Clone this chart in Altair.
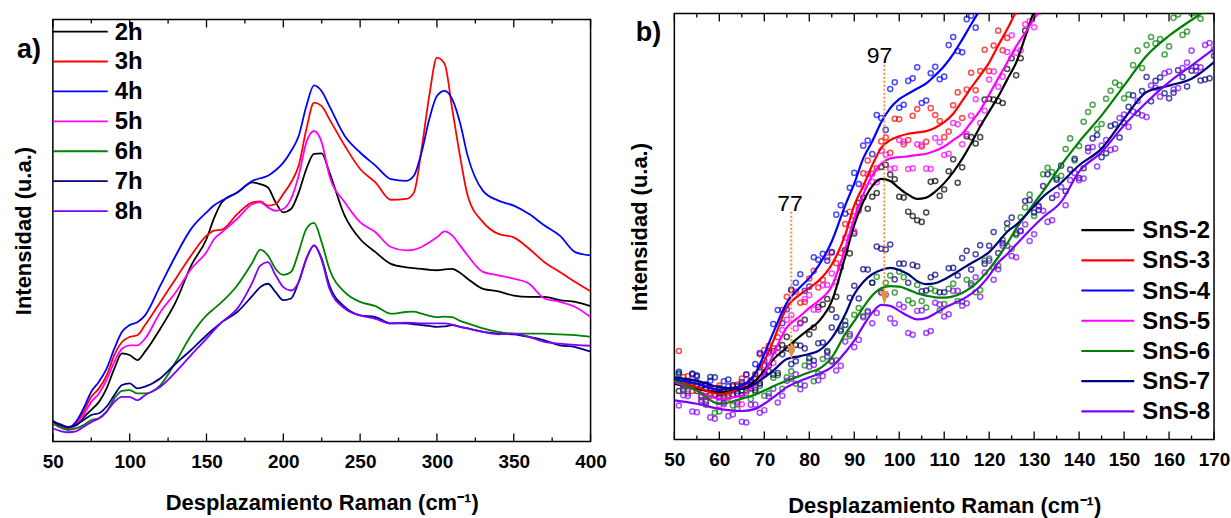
import altair as alt
import pandas as pd

FONT = "Liberation Sans"

# ---------------- Panel a data ----------------
A_X = [50, 55, 60, 65, 70, 75, 80, 85, 90, 95, 100, 105, 110, 120, 130, 140, 150, 155, 160, 170,
       180, 185, 190, 195, 200, 205, 210, 215, 220, 225, 230, 240, 250, 260, 270, 280, 285, 290, 295, 300,
       305, 310, 315, 320, 330, 340, 350, 360, 370, 380, 390, 400]
A_2H = [4.6, 4.1, 3.3, 3.8, 5.7, 7.5, 9.4, 12.6, 17.3, 20.9, 20.5, 19.3, 21.3, 26.8, 33.1, 41.7, 48, 53, 56.7, 59,
        61.4, 61, 60.2, 56.7, 54.3, 55.1, 59, 64.6, 68.2, 68.3, 63.8, 53.5, 48, 44.9, 42.1, 41.3, 41.1, 40.9, 40.7, 40.6,
        40.8, 40.9, 40, 38.6, 36.2, 35.6, 34.6, 34.3, 34.3, 33.5, 33.1, 32.1]
A_3H = [4.3, 3.8, 3.0, 4.3, 7.1, 10.6, 12.6, 15.7, 20.5, 23.6, 24.8, 25.2, 27.6, 33.1, 38.6, 44.1, 48.8, 50, 50.2, 53.9,
        56.7, 56.9, 55.9, 56.3, 58.7, 61.4, 65.4, 74, 80.3, 79.5, 76.4, 70.1, 64.6, 61.4, 57.3, 57.5, 59, 69.3, 81.9, 91,
        89.5, 78.7, 67.7, 58.3, 52, 49.2, 48.4, 45.7, 42.5, 40.2, 37.8, 35.6]
A_4H = [4.9, 3.9, 3.3, 4.7, 7.9, 11.8, 14.2, 17.3, 22, 26, 27.6, 28.3, 29.9, 37, 44.1, 50.4, 54.3, 56, 57.1, 59,
        61.8, 62.4, 63, 64.3, 66.1, 68.8, 72.4, 79.5, 84.4, 83, 79.5, 72.4, 68.5, 65.4, 62.2, 61.8, 63, 68.5, 76.4, 81.9,
        83.1, 81.1, 75.6, 67.7, 59.4, 57.1, 55.9, 53.9, 51.2, 48.8, 44.9, 44.1]
A_5H = [4.6, 3.5, 2.8, 3.9, 6.3, 9.4, 11.4, 14.6, 18.9, 22, 22.8, 22.8, 24.4, 30.7, 35.4, 40.9, 44.9, 48, 49.6, 52.8,
        56.3, 56.7, 55.5, 54.7, 55.1, 57.5, 63, 70.9, 73.6, 70.9, 63, 56.7, 52, 49.6, 46.1, 45.3, 45.5, 46.1, 47.2, 48.4,
        49.8, 48.8, 46.5, 44.1, 40.2, 39.4, 38.6, 37.4, 33.9, 33.1, 31.9, 29.5]
A_6H = [4.3, 3.3, 2.8, 3.1, 3.9, 5.1, 5.5, 7.1, 10.2, 12, 12.2, 11.4, 11.4, 13.4, 18.9, 25.2, 29.9, 31.5, 33.1, 37,
        42.5, 45.5, 44.1, 40.9, 39.5, 40.2, 44.9, 50.4, 51.8, 47.2, 40.9, 35.4, 33.1, 32.1, 30.3, 30.7, 30.8, 30.3, 29.8, 29.5,
        29.6, 29.5, 28.6, 28, 26.8, 26, 25.6, 25.6, 25.6, 25.4, 25.2, 24.8]
A_7H = [4.7, 3.9, 3.5, 3.9, 5.1, 6.3, 6.7, 8.3, 11, 13.4, 13.8, 12.6, 13, 15, 18.5, 21.7, 25.2, 26.8, 28.3, 30.7,
        34.6, 36.6, 37.4, 35.4, 33.5, 33.9, 37.8, 43.3, 46.5, 43.3, 37, 31.9, 29.9, 29.5, 28, 28, 27.8, 27.6, 27.4, 27.2,
        27.3, 27.6, 27.2, 26.8, 26, 25.6, 25.4, 24.8, 24, 22.8, 22.4, 21.3]
A_8H = [3.1, 2.5, 2.2, 2.4, 3.5, 4.6, 5.5, 7.1, 9.4, 10.6, 10.6, 9.8, 11, 13, 16.5, 20.5, 24.4, 26.4, 28.3, 31.5,
        37.8, 41.7, 42.5, 39.4, 36.6, 35.8, 37.8, 43.3, 46.5, 43, 36.3, 31.5, 29.9, 29.1, 28, 28.2, 28.1, 28, 28, 28,
        28, 27.7, 27.2, 26.8, 26, 25.4, 25.6, 24.8, 23.6, 23.2, 22.9, 22.7]
A_NAMES = ["2h", "3h", "4h", "5h", "6h", "7h", "8h"]
A_MAJOR = [50, 100, 150, 200, 250, 300, 350, 400]
A_MINOR = [75, 125, 175, 225, 275, 325, 375]

# ---------------- Panel b data (fitted lines) ----------------
B_X = [50, 55, 60, 65, 68, 70, 72, 75, 78, 80, 82, 85, 88, 90, 92, 94, 96, 98, 100, 102,
       104, 106, 108, 110, 112, 114, 116, 118, 120, 122, 124, 126, 128, 130, 132, 136, 140, 145, 150, 155,
       160, 165, 170]
B_S2 = [13.1, 11.9, 11.1, 11.9, 13.8, 16.2, 18.8, 21.6, 24.3, 25.9, 27.6, 32.5, 43, 50.4, 55.8, 59.5, 61.2, 60.7, 59, 57.5,
        56.5, 56.8, 58.2, 60.2, 62.8, 65.9, 69.5, 73.5, 77, 80.5, 84.5, 88.5, 94.5, 100.5, 104]
B_S3 = [13.8, 12.3, 10.7, 12.3, 15.5, 18.5, 23.2, 31, 34.1, 35.6, 37.2, 41.1, 48.1, 55, 59.5, 64.4, 68.5, 70.3, 71.2, 71.8,
        72.1, 72.4, 73.2, 74.5, 76.5, 79.5, 82.6, 85.5, 88.5, 92.5, 96.3, 100.5, 104]
B_S4 = [14.2, 13.1, 11.7, 12.7, 15.5, 20.1, 25.1, 32.1, 35.8, 37.9, 40.7, 46.5, 55, 60.1, 66, 70, 74.5, 77.8, 79.9, 81.2,
        82.4, 83.6, 85.5, 87.7, 90.5, 93.9, 97.5, 101, 104.5]
B_S5 = [13.5, 11.5, 9.6, 10.3, 13.1, 15.4, 20, 26.3, 29, 30.9, 32.5, 36, 44.9, 51.9, 57.5, 62, 64.8, 66, 66.3, 66.5,
        66.8, 67.1, 67.8, 68.8, 70.3, 71.8, 74.5, 77.3, 81, 84.8, 88.5, 92.3, 95.5, 98.8, 102]
B_S6 = [13.8, 11.5, 8.4, 9.6, 10.6, 11.5, 12.5, 13.8, 15, 15.8, 16.5, 19.3, 24.8, 27.8, 31, 33.8, 35.5, 36, 35.9, 35.2,
        34.3, 33.8, 33.4, 33.3, 33.6, 34.4, 35.7, 37.6, 40, 42.8, 46, 49.5, 52.5, 55.5, 58.3, 64.4, 69.9, 76.1, 83.1, 90.1,
        94.8, 98.5, 102]
B_S7 = [14.6, 13.8, 12.3, 11.9, 13.1, 14.6, 16.2, 18.9, 19.6, 20.1, 20.8, 23.8, 29.4, 34.1, 37, 38.8, 39.8, 40.3, 39.8, 38.8,
        37.2, 36.5, 36.7, 37.6, 38.8, 40.1, 41.4, 42.6, 44, 46.3, 48.8, 50.4, 52.5, 54.8, 57, 60.3, 64.4, 68.3, 75.3, 81.6,
        83.1, 84.7, 88.6]
B_S8 = [9.2, 8.4, 7.2, 6.7, 7.2, 8.4, 9.9, 12.3, 13.8, 14.6, 15.4, 17, 20.5, 23.2, 26.7, 29.8, 31.6, 31.4, 30.2, 29,
        28.2, 28.5, 29.6, 30.9, 31.9, 32.9, 34.2, 36, 38.5, 41.5, 43.5, 45.8, 48, 50.2, 52.2, 55.8, 62.9, 67.5, 73.8, 79.2,
        83.9, 87.8, 91.7]

# ---------------- Panel b measured points ----------------
P_X = list(range(51, 170, 2))   # odd wavenumbers
P_S2 = [11.4, 13.4, 11.4, 12.8, 10.5, 11.7, 10.5, 12.7, 12.0, 17.0, 16.0, 21.5, 24.1, 22.2, 28.1, 26.3, 31.7, 30.5, 40.5, 43.7,
        55.6, 54.2, 57.9, 64.5, 61.1, 56.8, 52.5, 51.1, 60.5, 57.2, 63.0, 60.3, 71.2, 69.5, 79.8, 79.8, 79.0, 89.5, 89.5, 101.5, 102]
P_S3 = [20.8, 14.9, 12.8, 10.2, 12.0, 9.8, 12.5, 14.3, 12.9, 20.0, 22.0, 24.0, 33.5, 34.7, 32.3, 39.6, 37.5, 43.9, 43.8, 53.5,
        54.2, 65.5, 63.7, 70.9, 75.3, 69.3, 76.0, 68.8, 77.8, 74.8, 72.3, 81.5, 82.2, 82.0, 91.5, 92.5, 91.4, 101.9, 102.2]
P_S4 = [15.5, 12.6, 15.1, 13.0, 10.5, 13.7, 11.5, 13.5, 13.3, 20.3, 20.6, 30.4, 30.6, 36.8, 34.9, 42.8, 43.6, 44.0, 55.0, 59.1,
        60.0, 70.2, 76.2, 72.7, 83.9, 78.6, 84.8, 79.0, 86.0, 84.6, 92.6, 91.2, 98.7, 96.7, 102.5]
P_S5 = [14.1, 10.8, 13.5, 8.9, 10.5, 8.3, 10.6, 8.3, 13.7, 13.3, 20.2, 20.5, 28.1, 26.1, 33.0, 30.5, 36.2, 39.0, 40.4, 50.4,
        53.7, 62.3, 60.4, 66.9, 63.7, 69.9, 63.7, 69.2, 63.5, 69.8, 67.1, 74.0, 71.7, 79.9, 77.2, 86.4, 85.2, 94.9, 91.4, 98.2, 100.4]
P_S6 = [15.3, 11.4, 13.0, 8.2, 6.3, 9.7, 8.0, 11.6, 9.5, 12.6, 10.8, 15.1, 14.6, 13.1, 17.4, 13.7, 18.9, 18.3, 25.9, 24.3,
        30.9, 29.9, 38.2, 36.8, 34.5, 38.1, 32.0, 32.5, 35.4, 30.3, 35.4, 32.5, 37.5, 34.6, 42.0, 40.4, 46.9, 44.8, 52.2, 57.5,
        54.9, 63.8, 61.4, 68.2, 65.5, 74.6, 78.6, 74.1, 81.9, 83.2, 81.0, 91.3, 92.6, 93.0, 90.4, 99.0, 95.0, 100.0, 98.8]
P_S7 = [15.9, 13.6, 14.8, 12.0, 14.6, 11.2, 12.8, 10.4, 13.9, 13.1, 17.4, 15.6, 21.4, 18.4, 21.4, 18.5, 22.8, 26.3, 25.5, 33.3,
        33.1, 39.9, 45.3, 44.6, 37.6, 41.3, 41.0, 34.8, 38.1, 34.6, 40.2, 38.5, 44.3, 43.5, 41.3, 48.7, 46.1, 52.1, 49.0, 56.2,
        53.9, 62.3, 61.0, 58.3, 65.9, 63.7, 70.7, 66.3, 73.6, 70.9, 78.1, 76.6, 85.1, 84.2, 81.3, 81.4, 85.1, 86.6, 84.3, 84.8]
P_S8 = [8.0, 10.2, 6.4, 8.9, 4.9, 8.6, 5.9, 4.2, 8.2, 6.3, 10.1, 8.7, 13.8, 15.3, 12.7, 17.5, 14.9, 18.5, 17.3, 24.8,
        23.4, 30.2, 29.7, 34.0, 27.3, 31.1, 24.6, 30.3, 25.5, 31.7, 29.4, 34.9, 32.0, 38.1, 39.2, 37.5, 45.5, 43.1, 48.9, 46.6,
        54.7, 51.1, 57.4, 55.0, 62.6, 61.3, 68.7, 69.0, 68.0, 75.5, 73.4, 79.5, 75.7, 82.6, 86.0, 82.2, 87.2, 91.3, 87.4, 93.1]

Q_X = list(range(52, 171, 2))   # even wavenumbers
Q_S2 = [11.8, 13.3, 10.2, 11.9, 12.1, 10.2, 12.5, 11.5, 15.3, 15.2, 20.8, 22.2, 21.0, 27.3, 24.7, 31.1, 33.0, 33.5, 44.5, 48.4,
        56.8, 57.0, 64.0, 62.2, 57.0, 53.5, 51.5, 53.3, 60.7, 58.7, 65.8, 63.9, 71.0, 71.0, 80.0, 79.5, 87.0, 85.5, 96.0, 100.5]
Q_S3 = [14.7, 11.4, 12.8, 10.3, 12.7, 9.8, 12.9, 15.2, 14.5, 21.0, 21.4, 30.4, 35.0, 32.1, 37.8, 35.7, 42.8, 41.4, 50.6, 52.5,
        62.5, 62.4, 70.0, 67.3, 75.2, 70.3, 77.6, 69.9, 76.2, 71.0, 78.5, 75.5, 86.1, 86.5, 86.5, 96.0, 94.3, 100.5]
Q_S4 = [12.5, 15.3, 12.3, 13.8, 9.9, 12.5, 11.4, 15.3, 17.7, 18.6, 27.1, 27.3, 35.2, 38.8, 35.9, 42.2, 42.0, 52.8, 53.0, 62.6,
        69.0, 67.0, 75.5, 82.3, 77.9, 84.2, 87.4, 79.6, 87.5, 85.2, 94.5, 90.9, 99.5, 101]
Q_S5 = [11.7, 13.4, 9.9, 12.2, 8.1, 10.4, 8.3, 12.4, 12.1, 17.4, 18.0, 25.7, 29.2, 27.5, 33.9, 30.5, 36.3, 37.0, 47.4, 48.9,
        59.5, 60.5, 67.8, 63.5, 70.3, 63.5, 69.3, 63.6, 70.8, 66.8, 74.3, 69.3, 76.0, 74.3, 84.5, 82.8, 91.0, 90.8, 97.5, 96.8, 102]
Q_S6 = [11.4, 13.0, 8.9, 10.8, 6.6, 10.4, 7.2, 10.9, 11.1, 10.3, 14.5, 11.9, 16.0, 13.0, 18.3, 15.5, 20.4, 18.6, 27.8, 29.3,
        29.0, 36.8, 34.5, 38.5, 39.4, 32.7, 36.3, 31.0, 34.9, 31.8, 36.6, 32.4, 36.7, 35.1, 42.5, 40.8, 49.5, 48.0, 54.5, 52.5,
        62.3, 62.8, 61.9, 70.7, 68.9, 76.9, 72.9, 80.0, 83.8, 80.1, 87.9, 87.2, 94.5, 94.0, 92.3, 99.8, 95.8, 100.2, 100.6]
Q_S7 = [13.3, 15.5, 12.7, 14.7, 10.8, 14.1, 10.8, 12.8, 11.6, 15.8, 15.2, 20.0, 17.7, 22.1, 19.1, 22.6, 20.8, 28.7, 26.9, 36.1,
        40.0, 36.8, 44.8, 45.8, 41.3, 36.8, 40.7, 35.0, 38.7, 34.6, 40.3, 42.6, 39.9, 45.6, 45.5, 43.8, 50.8, 48.4, 56.0, 53.3,
        59.5, 56.7, 64.3, 63.4, 61.4, 68.5, 71.5, 67.2, 74.0, 74.3, 80.8, 81.8, 79.4, 85.0, 80.1, 86.7, 82.9, 87.5, 84.5, 90.1]
Q_S8 = [10.4, 6.6, 9.2, 5.2, 9.0, 5.5, 8.8, 4.0, 8.2, 6.9, 11.9, 10.3, 14.3, 11.8, 17.1, 13.9, 19.5, 16.2, 23.0, 21.7,
        28.7, 27.3, 34.6, 28.4, 31.7, 25.0, 30.2, 25.0, 32.1, 28.9, 34.9, 31.4, 36.2, 33.5, 42.0, 40.0, 45.5, 42.8, 50.5, 48.2,
        53.7, 51.5, 59.3, 60.9, 60.9, 67.7, 64.1, 70.3, 68.3, 76.3, 77.0, 76.1, 83.1, 80.5, 86.4, 82.5, 88.5, 86.6, 92.6, 91.7]

B_NAMES = ["SnS-2", "SnS-3", "SnS-4", "SnS-5", "SnS-6", "SnS-7", "SnS-8"]
B_MAJOR = [50, 60, 70, 80, 90, 100, 110, 120, 130, 140, 150, 160, 170]
B_MINOR = [55, 65, 75, 85, 95, 105, 115, 125, 135, 145, 155, 165]

# peak annotations
ANN_LABEL = ["77", "97"]
ANN_X = [76, 96.7]
ANN_LABEL_X = [75.7, 95.6]
ANN_LABEL_V = [55.4, 90]
ANN_TOP = [53.5, 88]
ANN_BOTTOM = [21.6, 34.5]
ANN_ARROW = [20.4, 33.2]

COLORS = ["#000000", "#FF0000", "#0000FF", "#FF00FF", "#008000", "#000080", "#8000FF"]
ORANGE = "#E8923A"

# ---------------- build frames ----------------
a_rows = []
for name, ys in zip(A_NAMES, [A_2H, A_3H, A_4H, A_5H, A_6H, A_7H, A_8H]):
    for x, v in zip(A_X, ys):
        a_rows.append({"x": x, "v": v, "s": name})
df_a = pd.DataFrame(a_rows)

bl_rows, bp_rows = [], []
for name, ys, ps, qs in zip(B_NAMES, [B_S2, B_S3, B_S4, B_S5, B_S6, B_S7, B_S8],
                            [P_S2, P_S3, P_S4, P_S5, P_S6, P_S7, P_S8],
                            [Q_S2, Q_S3, Q_S4, Q_S5, Q_S6, Q_S7, Q_S8]):
    for x, v in zip(B_X, ys):
        bl_rows.append({"x": x, "v": v, "s": name})
    for x, v in zip(P_X, ps):
        bp_rows.append({"x": x, "v": v, "s": name})
    for x, v in zip(Q_X, qs):
        bp_rows.append({"x": x, "v": v, "s": name})
df_bl = pd.DataFrame(bl_rows)
df_bp = pd.DataFrame(bp_rows)
df_ann = pd.DataFrame({"label": ANN_LABEL, "x": ANN_X, "lx": ANN_LABEL_X, "lv": ANN_LABEL_V,
                       "top": ANN_TOP, "bottom": ANN_BOTTOM, "arrow": ANN_ARROW})
one = pd.DataFrame({"d": [0]})

WA, HA = 539, 423
WB, HB = 541, 427
TITLE_X = "Desplazamiento Raman (cm\u207b\u00b9)"


def x_axis(vals, tpad):
    return alt.Axis(values=vals, tickSize=0, domain=False, grid=False, labelFontSize=19,
                    labelFontWeight="bold", labelPadding=11, title=TITLE_X, titleFontSize=22,
                    titleFontWeight="bold", titlePadding=tpad, labelFlush=False)


def y_axis(pad):
    return alt.Axis(labels=False, ticks=False, domain=False, grid=False, title="Intensidad (u.a.)",
                    titleFontSize=22, titleFontWeight="bold", titlePadding=pad)


def tick_layers(major, minor, H):
    layers = []
    for vals, ln in ((major, 8), (minor, 4)):
        d = pd.DataFrame({"x": vals})
        layers.append(alt.Chart(d).mark_rule(color="black", strokeWidth=1.3).encode(
            x="x:Q", y=alt.value(H), y2=alt.value(H - ln)))
        layers.append(alt.Chart(d).mark_rule(color="black", strokeWidth=1.3).encode(
            x="x:Q", y=alt.value(0), y2=alt.value(ln)))
    return layers


def legend_layers(names, x0, x1, xt, y0, dy, sw):
    layers = []
    for i, (n, c) in enumerate(zip(names, COLORS)):
        y = y0 + i * dy
        layers.append(alt.Chart(one).mark_rule(color=c, strokeWidth=sw).encode(
            x=alt.value(x0), x2=alt.value(x1), y=alt.value(y)))
        layers.append(alt.Chart(one).mark_text(align="left", baseline="middle", font=FONT, fontSize=24,
                                               fontWeight="bold", color="black").encode(
            x=alt.value(xt), y=alt.value(y + 1), text=alt.value(n)))
    return layers


# ---------------- panel a ----------------
xa = alt.X("x:Q", scale=alt.Scale(domain=[50, 400], nice=False, zero=False), axis=x_axis(A_MAJOR, 21))
ya = alt.Y("v:Q", scale=alt.Scale(domain=[0, 100], nice=False), axis=y_axis(17))
color_a = alt.Color("s:N", scale=alt.Scale(domain=A_NAMES, range=COLORS), legend=None)

lines_a = alt.Chart(df_a).mark_line(strokeWidth=1.8, interpolate="monotone", clip=True).encode(
    x=xa, y=ya, color=color_a, order=alt.Order("x:Q"))
label_a = alt.Chart(one).mark_text(font=FONT, fontSize=27, fontWeight="bold", align="center",
                                   baseline="middle").encode(x=alt.value(-24), y=alt.value(31),
                                                             text=alt.value("a)"))
panel_a = alt.layer(lines_a, *tick_layers(A_MAJOR, A_MINOR, HA),
                    *legend_layers(A_NAMES, 0, 55, 62, 12, 30, 1.8), label_a).properties(
    width=WA, height=HA)

# invisible 1px spacer that lowers panel a relative to panel b
spacer = alt.Chart(one).mark_rule(opacity=0, strokeWidth=0).encode(
    x=alt.value(0), x2=alt.value(0), y=alt.value(0), y2=alt.value(1)).properties(
    width=1, height=1, view=alt.ViewBackground(stroke="transparent"))
col_a = alt.vconcat(spacer, panel_a, spacing=2)

# ---------------- panel b ----------------
xb = alt.X("x:Q", scale=alt.Scale(domain=[50, 170], nice=False, zero=False), axis=x_axis(B_MAJOR, 26))
yb = alt.Y("v:Q", scale=alt.Scale(domain=[0, 100], nice=False), axis=y_axis(23))
color_b = alt.Color("s:N", scale=alt.Scale(domain=B_NAMES, range=COLORS), legend=None)

pts_b = alt.Chart(df_bp).mark_point(filled=False, size=26, strokeWidth=1.5, clip=True).encode(
    x=xb, y=yb, color=color_b)
lines_b = alt.Chart(df_bl).mark_line(strokeWidth=2.2, interpolate="monotone", clip=True).encode(
    x=xb, y=yb, color=color_b, order=alt.Order("x:Q"))
ann_rule = alt.Chart(df_ann).mark_rule(color=ORANGE, strokeWidth=2, strokeDash=[2, 2]).encode(
    x="x:Q", y="top:Q", y2="bottom:Q")
ann_arrow = alt.Chart(df_ann).mark_point(shape="M-0.6,-1L0.6,-1L0,1Z", filled=True, size=200,
                                         color=ORANGE, opacity=1, strokeWidth=0).encode(
    x="x:Q", y="arrow:Q")
ann_text = alt.Chart(df_ann).mark_text(font=FONT, fontSize=23, color="black", baseline="middle").encode(
    x="lx:Q", y="lv:Q", text="label:N")
label_b = alt.Chart(one).mark_text(font=FONT, fontSize=27, fontWeight="bold", align="center",
                                   baseline="middle").encode(x=alt.value(-26), y=alt.value(19),
                                                             text=alt.value("b)"))
panel_b = alt.layer(pts_b, lines_b, ann_rule, ann_text, *tick_layers(B_MAJOR, B_MINOR, HB),
                    *legend_layers(B_NAMES, 408, 461, 469, 217, 30.3, 2.2), label_b, ann_arrow).properties(
    width=WB, height=HB)

chart = alt.hconcat(col_a, panel_b, spacing=20).properties(
    padding={"left": 12, "top": 11, "right": 0, "bottom": 0}
).configure(font=FONT).configure_view(stroke="black", strokeWidth=1.5).configure_axis(
    labelFont=FONT, titleFont=FONT, labelColor="black", titleColor="black")

chart.save("out.html", embed_options={"renderer": "svg", "actions": False})
